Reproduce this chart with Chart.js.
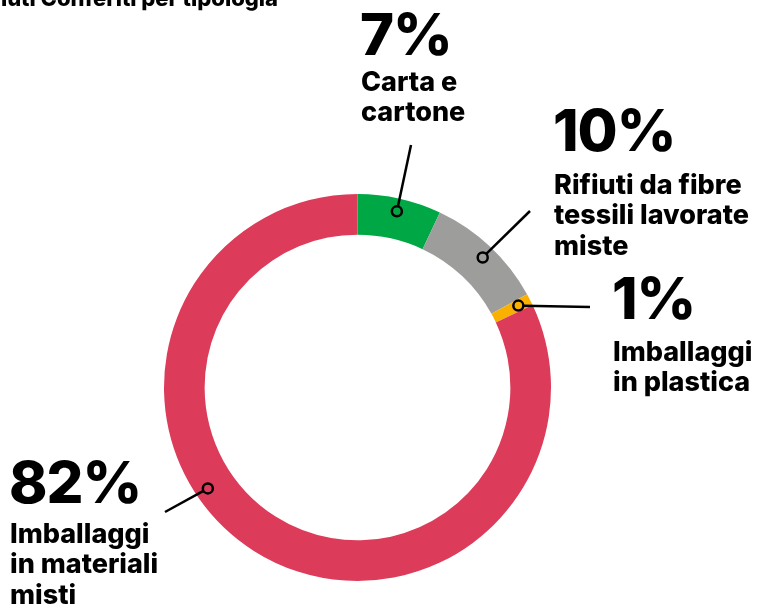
<!DOCTYPE html>
<html>
<head>
<meta charset="utf-8">
<script src="https://cdn.jsdelivr.net/npm/chart.js@4"></script>
<style>
  html, body { margin: 0; padding: 0; background: #fff; }
  body { width: 761px; height: 607px; position: relative; overflow: hidden; font-family: Inter, "Noto Sans", sans-serif; color: #000; }
  #chart { position: absolute; left: 0; top: 0; }
  .title { position: absolute; right: 483px; top: -13px; font-size: 22px; line-height: 22px; font-weight: 800; white-space: nowrap; }
  .pct { position: absolute; white-space: nowrap; font-size: 58px; line-height: 58px; font-weight: 800; letter-spacing: -1px; }
  .txt { position: absolute; white-space: nowrap; font-size: 27px; line-height: 30.5px; font-weight: 800; }
</style>
</head>
<body>
<canvas id="chart" width="761" height="607"></canvas>
<div class="title">Rifiuti Conferiti per tipologia</div>

<script>
// Rifiuti conferiti per tipologia
const categories = ['Carta e cartone', 'Rifiuti da fibre tessili lavorate miste', 'Imballaggi in plastica', 'Imballaggi in materiali misti'];
const labelLines = [['Carta e', 'cartone'], ['Rifiuti da fibre', 'tessili lavorate', 'miste'], ['Imballaggi', 'in plastica'], ['Imballaggi', 'in materiali', 'misti']];
const shares = [7, 10, 1, 82];
const colors = ['#00a745', '#9d9d9c', '#f9b000', '#dc3c5a'];

// annotation placement: x, baseline of the % figure, baseline of first text line,
// end of leader line, and where along its slice the marker sits
const annotLayout = [
    { x: 360, pctBase: 55, txtBase: 92, lineEnd: [411, 145], along: 0.5 },
    { x: 553, pctBase: 151, txtBase: 195, lineEnd: [530, 211], along: 0.52 },
    { x: 612, pctBase: 319, txtBase: 362, lineEnd: [590, 307], along: 0.5 },
    { x: 9, pctBase: 503, txtBase: 544, lineEnd: [165, 512], along: 0.58 }
];

// labels as real text (baseline offsets for Inter at the sizes above)
categories.forEach((c, i) => {
    const L = annotLayout[i];
    const p = document.createElement('div');
    p.className = 'pct';
    p.style.left = L.x + 'px';
    p.style.top = (L.pctBase - 50.1) + 'px';
    p.textContent = shares[i] + '%';
    document.body.appendChild(p);
    const t = document.createElement('div');
    t.className = 'txt';
    t.style.left = (L.x + 1) + 'px';
    t.style.top = (L.txtBase - 25.1) + 'px';
    t.innerHTML = labelLines[i].join('<br>');
    document.body.appendChild(t);
});

// leader lines + small ring markers on each slice
const leaderPlugin = {
    id: 'leaders',
    afterDatasetsDraw(chart) {
        const ctx = chart.ctx;
        const arcs = chart.getDatasetMeta(0).data;
        ctx.save();
        ctx.strokeStyle = '#000';
        ctx.lineWidth = 2.5;
        arcs.forEach((arc, i) => {
            const p = arc.getProps(['x', 'y', 'startAngle', 'endAngle', 'innerRadius', 'outerRadius'], true);
            const a = p.startAngle + (p.endAngle - p.startAngle) * annotLayout[i].along;
            const r = p.innerRadius + (p.outerRadius - p.innerRadius) * 0.68;
            const mx = p.x + Math.cos(a) * r;
            const my = p.y + Math.sin(a) * r;
            const end = annotLayout[i].lineEnd;
            const dx = end[0] - mx, dy = end[1] - my;
            const len = Math.hypot(dx, dy);
            ctx.beginPath();
            ctx.moveTo(mx + dx / len * 5, my + dy / len * 5);
            ctx.lineTo(end[0], end[1]);
            ctx.stroke();
            ctx.beginPath();
            ctx.arc(mx, my, 5, 0, Math.PI * 2);
            ctx.stroke();
        });
        ctx.restore();
    }
};

new Chart(document.getElementById('chart').getContext('2d'), {
    type: 'doughnut',
    data: {
        labels: categories,
        datasets: [{
            data: shares,
            backgroundColor: colors,
            borderWidth: 0
        }]
    },
    options: {
        responsive: false,
        animation: false,
        cutout: '79%',
        layout: { padding: { left: 164, right: 210, top: 194, bottom: 26 } },
        plugins: {
            legend: { display: false },
            tooltip: { enabled: false }
        }
    },
    plugins: [leaderPlugin]
});
</script>
</body>
</html>
